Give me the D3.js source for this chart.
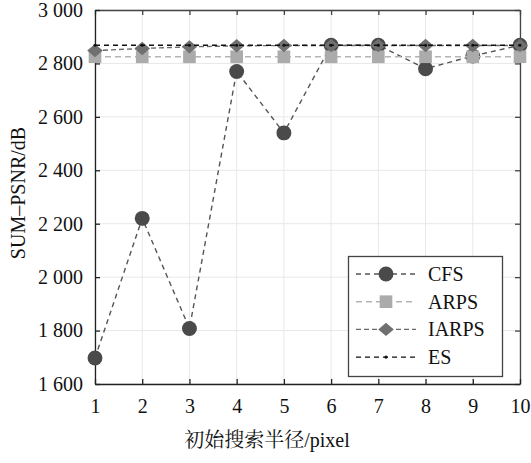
<!DOCTYPE html>
<html><head><meta charset="utf-8">
<script src="https://cdn.jsdelivr.net/npm/d3@7"></script>
<style>body{margin:0;background:#fff}svg{display:block}</style>
</head><body>
<script>
const radius = [1,2,3,4,5,6,7,8,9,10];
const cfs   = [1697,2220,1808,2770,2540,2868,2868,2780,2828,2868];
const arps  = [2825,2825,2825,2825,2825,2825,2825,2825,2825,2825];
const iarps = [2848,2856,2862,2866,2867,2867,2867,2867,2867,2867];
const es    = [2868,2868,2868,2868,2868,2868,2868,2868,2868,2868];
const yTicks = [1600,1800,2000,2200,2400,2600,2800,3000];
const seriesNames = ["CFS","ARPS","IARPS","ES"];

const W=531,H=463;
const m={l:95,r:11,t:10,b:79};
const FONT='"Liberation Serif", "Noto Serif CJK SC", serif';
const svg=d3.select("body").append("svg").attr("width",W).attr("height",H)
  .style("font-family",FONT);
const x=d3.scaleLinear().domain([1,10]).range([m.l,W-m.r]);
const y=d3.scaleLinear().domain([1600,3000]).range([H-m.b,m.t]);

// grid
const g=svg.append("g");
g.selectAll(".vg").data(radius).join("line").attr("x1",d=>x(d)).attr("x2",d=>x(d))
 .attr("y1",y(1600)).attr("y2",y(3000)).attr("stroke","#e8e8e8").attr("stroke-width",1);
g.selectAll(".hg").data(yTicks).join("line").attr("y1",d=>y(d)).attr("y2",d=>y(d))
 .attr("x1",x(1)).attr("x2",x(10)).attr("stroke","#e8e8e8").attr("stroke-width",1);

// axes
const ax=d3.axisBottom(x).tickValues(radius).tickFormat(d3.format("d")).tickSizeInner(-5).tickSizeOuter(0).tickPadding(15);
const ay=d3.axisLeft(y).tickValues(yTicks).tickFormat(d=>d3.format(",")(d).replace(","," ")).tickSizeInner(-5).tickSizeOuter(0).tickPadding(12);
const axt=d3.axisTop(x).tickValues(radius).tickFormat("").tickSizeInner(-5).tickSizeOuter(0);
const ayr=d3.axisRight(y).tickValues(yTicks).tickFormat("").tickSizeInner(-5).tickSizeOuter(0);
function styleAxis(sel,col){
 sel.attr("font-family",FONT).attr("font-size",20);
 sel.selectAll("path").attr("stroke",col).attr("stroke-width",1.3);
 sel.selectAll("line").attr("stroke",col).attr("stroke-width",1.3);
 sel.selectAll("text").attr("font-family",FONT).attr("font-size",20).attr("fill","#111");}
svg.append("g").attr("transform",`translate(0,${y(3000)})`).call(axt).call(s=>styleAxis(s,"#444"));
svg.append("g").attr("transform",`translate(${x(10)},0)`).call(ayr).call(s=>styleAxis(s,"#444"));
svg.append("g").attr("transform",`translate(0,${y(1600)})`).call(ax).call(s=>styleAxis(s,"#222"));
svg.append("g").attr("transform",`translate(${x(1)},0)`).call(ay).call(s=>styleAxis(s,"#222"));

// wide diamond symbol
const wideDiamond={draw(ctx,size){const r=Math.sqrt(size)/2;ctx.moveTo(0,-r*0.95);ctx.lineTo(r*1.1,0);ctx.lineTo(0,r*0.95);ctx.lineTo(-r*1.1,0);ctx.closePath();}};

// series
const styles={
 CFS:{vals:cfs,color:"#555",mcol:"#4a4a4a",shape:d3.symbolCircle,size:175,dash:"5,4"},
 ARPS:{vals:arps,color:"#b4b4b4",mcol:"#ababab",shape:d3.symbolSquare,size:160,dash:"6,4"},
 IARPS:{vals:iarps,color:"#6a6a6a",mcol:"#707070",shape:wideDiamond,size:200,dash:"5,3"},
 ES:{vals:es,color:"#111",mcol:"#111",shape:d3.symbolCircle,size:8,dash:"5,4"}
};
const line=d3.line().x((d,i)=>x(radius[i])).y(d=>y(d));
["CFS","ARPS","IARPS","ES"].forEach(n=>{
 const s=styles[n];
 svg.append("path").datum(s.vals).attr("d",line).attr("fill","none")
  .attr("stroke",s.color).attr("stroke-width",1.4).attr("stroke-dasharray",s.dash);
 svg.append("g").selectAll("path").data(s.vals).join("path")
  .attr("transform",(d,i)=>`translate(${x(radius[i])},${y(d)})`)
  .attr("d",d3.symbol().type(s.shape).size(s.size)).attr("fill",s.mcol);
});

// legend
const lg=svg.append("g");
lg.append("rect").attr("x",348.5).attr("y",256.5).attr("width",154).attr("height",120)
 .attr("fill","#fff").attr("stroke","#444").attr("stroke-width",1.3);
seriesNames.forEach((n,i)=>{
 const s=styles[n]; const yy=274+i*27.7;
 lg.append("line").attr("x1",356).attr("x2",416).attr("y1",yy).attr("y2",yy)
  .attr("stroke",s.color).attr("stroke-width",1.4).attr("stroke-dasharray",s.dash);
 lg.append("path").attr("transform",`translate(386,${yy})`)
  .attr("d",d3.symbol().type(s.shape).size(s.size)).attr("fill",s.mcol);
 lg.append("text").attr("x",428).attr("y",yy+7).text(n)
  .attr("font-family",FONT).attr("font-size",20).attr("fill","#111");
});

// labels
svg.append("text").attr("x",267).attr("y",447).attr("text-anchor","middle")
 .attr("font-family",FONT).attr("font-size",20).attr("fill","#111")
 .text("初始搜索半径/pixel");
svg.append("text").attr("transform","translate(25,193) rotate(-90)").attr("text-anchor","middle")
 .attr("font-family",FONT).attr("font-size",20).attr("fill","#111")
 .text("SUM–PSNR/dB");
</script>
</body></html>
